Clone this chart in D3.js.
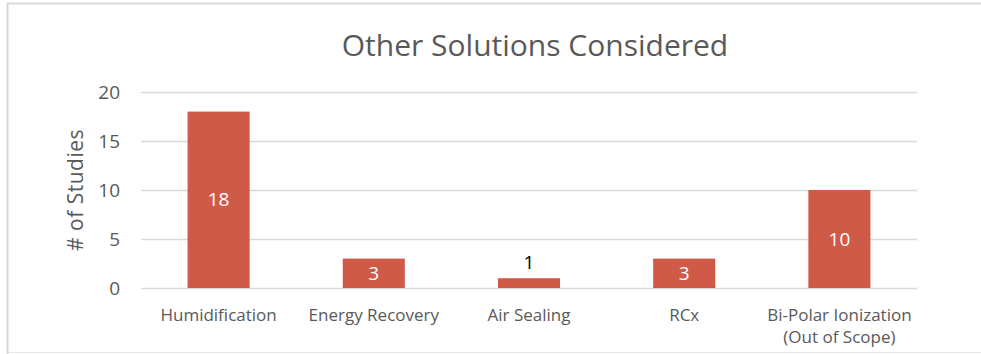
<!DOCTYPE html>
<html>
<head>
<meta charset="utf-8">
<script src="https://cdn.jsdelivr.net/npm/d3@7"></script>
<style>
  body { margin: 0; background: #fff; }
  svg text { font-family: "Open Sans", "Noto Sans", sans-serif; }
</style>
</head>
<body>
<div id="chart"></div>
<script>
// data
var categories = ["Humidification", "Energy Recovery", "Air Sealing", "RCx", "Bi-Polar Ionization\n(Out of Scope)"];
var studies = [18, 3, 1, 3, 10];
var yTicks = [0, 5, 10, 15, 20];

var width = 981, height = 354;
var margin = {left: 141, right: 64, top: 92, bottom: 66};

var svg = d3.select("#chart").append("svg")
  .attr("width", width)
  .attr("height", height);

// chart frame
svg.append("path")
  .attr("d", "M7.5," + height + " V3.5 H" + width)
  .attr("fill", "none")
  .attr("stroke", "#d9d9d9")
  .attr("stroke-width", 2);
svg.append("line")
  .attr("x1", 7).attr("x2", width)
  .attr("y1", 352.5).attr("y2", 352.5)
  .attr("stroke", "#e6e6e6");

var x = d3.scaleBand()
  .domain(categories)
  .range([margin.left, width - margin.right])
  .paddingInner(0.6)
  .paddingOuter(0.3);

var y = d3.scaleLinear()
  .domain([0, 20])
  .range([height - margin.bottom, margin.top]);

// gridlines
svg.append("g")
  .selectAll("line")
  .data(yTicks)
  .enter().append("line")
  .attr("x1", margin.left)
  .attr("x2", width - margin.right)
  .attr("y1", function(d) { return Math.round(y(d)) + 0.5; })
  .attr("y2", function(d) { return Math.round(y(d)) + 0.5; })
  .attr("stroke", "#d9d9d9")
  .attr("stroke-width", 1.5);

// y tick labels
svg.append("g")
  .selectAll("text")
  .data(yTicks)
  .enter().append("text")
  .attr("x", 120)
  .attr("y", function(d) { return y(d); })
  .attr("dy", "0.35em")
  .attr("text-anchor", "end")
  .attr("fill", "#595959")
  .style("font-size", "19px")
  .text(function(d) { return d; });

// bars
svg.append("g")
  .selectAll("rect")
  .data(studies)
  .enter().append("rect")
  .attr("x", function(d, i) { return x(categories[i]); })
  .attr("width", x.bandwidth())
  .attr("y", function(d) { return y(d); })
  .attr("height", function(d) { return y(0) - y(d); })
  .attr("fill", "#d05a48");

// value labels (inside when bar is tall enough)
svg.append("g")
  .selectAll("text")
  .data(studies)
  .enter().append("text")
  .attr("x", function(d, i) { return x(categories[i]) + x.bandwidth() / 2; })
  .attr("y", function(d) {
    if (d < 2) return y(d) - 16;
    return (y(d) + y(0)) / 2;
  })
  .attr("dy", "0.35em")
  .attr("text-anchor", "middle")
  .attr("fill", function(d) { return d < 2 ? "#000" : "#fff"; })
  .style("font-size", "19px")
  .text(function(d) { return d; });

// x labels
var xl = svg.append("g")
  .selectAll("text")
  .data(categories)
  .enter().append("text")
  .attr("x", function(d) { return x(d) + x.bandwidth() / 2; })
  .attr("y", 321)
  .attr("text-anchor", "middle")
  .attr("fill", "#595959")
  .style("font-size", "17px");
xl.selectAll("tspan")
  .data(function(d) { return d.split("\n"); })
  .enter().append("tspan")
  .attr("x", function() { return d3.select(this.parentNode).attr("x"); })
  .attr("dy", function(d, i) { return i ? 22 : 0; })
  .text(function(d) { return d; });

// y axis title
svg.append("text")
  .attr("transform", "translate(83," + ((y(0) + y(20)) / 2) + ") rotate(-90)")
  .attr("text-anchor", "middle")
  .attr("fill", "#595959")
  .style("font-size", "21px")
  .style("letter-spacing", "0.5px")
  .text("# of  Studies");

// title
svg.append("text")
  .attr("x", 535)
  .attr("y", 56)
  .attr("text-anchor", "middle")
  .attr("fill", "#595959")
  .style("font-size", "30px")
  .text("Other Solutions Considered");
</script>
</body>
</html>
